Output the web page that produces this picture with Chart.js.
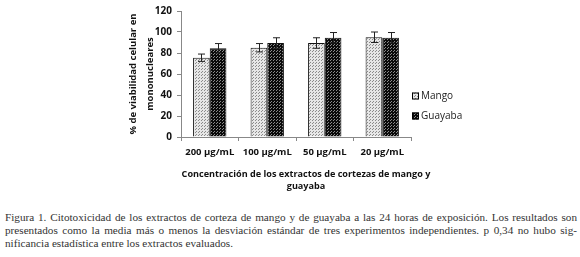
<!DOCTYPE html>
<html>
<head>
<meta charset="utf-8">
<script src="https://cdn.jsdelivr.net/npm/chart.js@4.4.0/dist/chart.umd.min.js"></script>
<style>
  body { margin: 0; background: #fff; width: 580px; height: 257px; overflow: hidden; }
  #wrap { position: absolute; left: 0; top: 0; width: 580px; height: 200px; }
  #caption {
    position: absolute; left: 5px; top: 211px; width: 572px;
    font-family: "Liberation Serif", "DejaVu Serif", serif; font-size: 11.2px; line-height: 13px;
    color: #333; text-align: justify; hyphens: manual;
  }
</style>
</head>
<body>
<div id="wrap"><canvas id="chart" width="580" height="200"></canvas></div>
<div id="caption">Figura 1. Citotoxicidad de los extractos de corteza de mango y de guayaba a las 24 horas de exposición. Los resultados son presentados como la media más o menos la desviación estándar de tres experimentos independientes. p 0,34 no hubo sig&shy;nificancia estadística entre los extractos evaluados.</div>
<script>
const categories = ['200 µg/mL', '100 µg/mL', '50 µg/mL', '20 µg/mL'];
const mango = [75.5, 85, 89.5, 95];
const guayaba = [84.5, 89.5, 94.5, 94.5];
const mangoErr = [3.5, 4, 5, 5];
const guayabaErr = [4.5, 5, 5, 5];
const yTicks = [0, 20, 40, 60, 80, 100, 120];
const xTitle = ['Concentración de los extractos de cortezas de mango y', 'guayaba'];

// 点状填充
function makePattern(bg, dot) {
  const c = document.createElement('canvas');
  c.width = 3; c.height = 3;
  const g = c.getContext('2d');
  g.fillStyle = bg; g.fillRect(0, 0, 3, 3);
  g.fillStyle = dot;
  g.fillRect(0, 0, 1, 1);
  g.fillRect(1, 2, 1, 1);
  return g.createPattern(c, 'repeat');
}
const ctx = document.getElementById('chart').getContext('2d');
const mangoFill = makePattern('#e6e6e6', '#8a8a8a');
const guayabaFill = makePattern('#0a0a0a', '#8c8c8c');
const font = '"Open Sans", "Liberation Sans", sans-serif';

const errorBars = {
  id: 'errorBars',
  afterDatasetsDraw(chart) {
    const c = chart.ctx, y = chart.scales.y;
    const errs = [mangoErr, guayabaErr];
    c.save();
    c.strokeStyle = '#222'; c.lineWidth = 1;
    chart.data.datasets.forEach((ds, i) => {
      chart.getDatasetMeta(i).data.forEach((bar, j) => {
        const x = Math.round(bar.x) + 0.5;
        const top = y.getPixelForValue(ds.data[j] + errs[i][j]);
        const bot = y.getPixelForValue(ds.data[j] - errs[i][j]);
        c.beginPath();
        c.moveTo(x, top); c.lineTo(x, bot);
        c.moveTo(x - 3.5, top); c.lineTo(x + 3.5, top);
        c.moveTo(x - 3.5, bot); c.lineTo(x + 3.5, bot);
        c.stroke();
      });
    });
    c.restore();
  }
};

// 图例 + x 轴标题（标题比绘图区宽，手动绘制避免被压缩）
const sideLegend = {
  id: 'sideLegend',
  afterDraw(chart) {
    const c = chart.ctx;
    const fills = [mangoFill, guayabaFill];
    const ys = [96, 116];
    c.save();
    c.font = '10px ' + font;
    c.textBaseline = 'middle';
    chart.data.datasets.forEach((ds, i) => {
      c.fillStyle = fills[i];
      c.fillRect(412, ys[i] - 3.5, 7, 7);
      c.strokeStyle = '#000'; c.lineWidth = 1;
      c.strokeRect(412.5, ys[i] - 3, 6, 6);
      c.fillStyle = '#222';
      c.fillText(ds.label, 421, ys[i]);
    });
    c.font = 'bold 9.1px ' + font;
    c.textAlign = 'center';
    c.fillStyle = '#111';
    xTitle.forEach((t, i) => c.fillText(t, 306, 174 + i * 12.5));
    c.restore();
  }
};

new Chart(ctx, {
  type: 'bar',
  data: {
    labels: categories,
    datasets: [
      { label: 'Mango', data: mango, backgroundColor: mangoFill, borderColor: '#111', borderWidth: 1 },
      { label: 'Guayaba', data: guayaba, backgroundColor: guayabaFill, borderColor: '#111', borderWidth: 1 }
    ]
  },
  options: {
    responsive: false,
    animation: false,
    layout: { padding: { left: 125, right: 169, top: 0, bottom: 0 } },
    datasets: { bar: { categoryPercentage: 0.58, barPercentage: 1 } },
    plugins: { legend: { display: false }, tooltip: { enabled: false } },
    scales: {
      x: {
        grid: { display: true, drawOnChartArea: false, offset: true, tickLength: 4, color: '#888' },
        border: { color: '#888' },
        ticks: { color: '#111', font: { family: font, size: 9.5, weight: 'bold' }, padding: 6 },
        afterFit(s) { s.height = 63; }
      },
      y: {
        min: 0, max: 120,
        afterBuildTicks(s) { s.ticks = yTicks.map(v => ({ value: v })); },
        grid: { display: true, drawOnChartArea: false, tickLength: 4, color: '#888' },
        border: { color: '#888' },
        ticks: { color: '#111', font: { family: font, size: 10, weight: 'bold' }, padding: 5 },
        title: {
          display: true,
          text: ['% de viabilidad celular en', 'mononucleares'],
          color: '#111',
          font: { family: font, size: 9.5, weight: 'bold', lineHeight: 1.75 },
          padding: 0
        },
        afterFit(s) { s.width = 56; }
      }
    }
  },
  plugins: [errorBars, sideLegend]
});
</script>
</body>
</html>
